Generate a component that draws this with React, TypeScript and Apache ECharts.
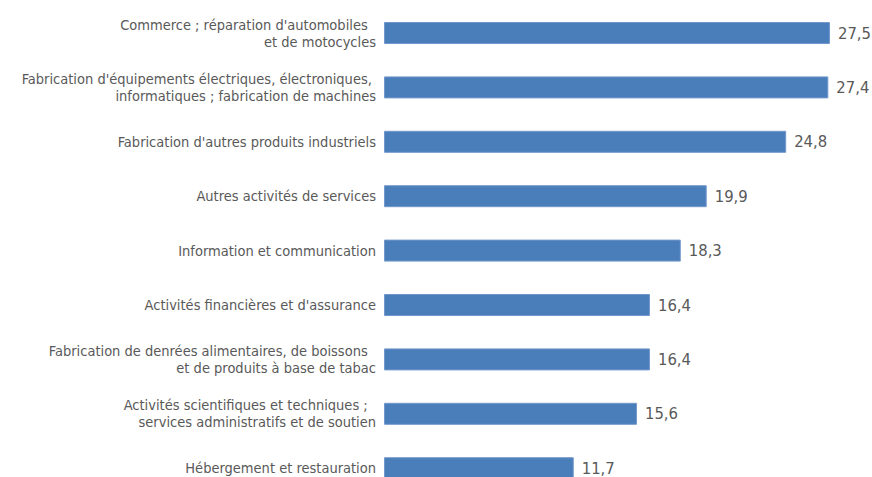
import React, { useEffect, useRef } from "react";
import * as echarts from "echarts";

const categories: string[] = [
  "Commerce ; réparation d'automobiles\u00a0\u00a0\net de motocycles",
  "Fabrication d'équipements électriques, électroniques,\u00a0\ninformatiques ; fabrication de machines",
  "Fabrication d'autres produits industriels",
  "Autres activités de services",
  "Information et communication",
  "Activités financières et d'assurance",
  "Fabrication de denrées alimentaires, de boissons\u00a0\u00a0\net de produits à base de tabac",
  "Activités scientifiques et techniques ;\u00a0\u00a0\nservices administratifs et de soutien",
  "Hébergement et restauration",
];

const values: number[] = [27.5, 27.4, 24.8, 19.9, 18.3, 16.4, 16.4, 15.6, 11.7];

const FONT = "'DejaVu Sans Condensed', 'Liberation Sans Narrow', 'Liberation Sans', sans-serif";

export default function App() {
  const ref = useRef<HTMLDivElement>(null);
  useEffect(() => {
    if (!ref.current) return;
    const chart = echarts.init(ref.current, undefined, { renderer: "svg" });
    chart.setOption({
      animation: false,
      backgroundColor: "#ffffff",
      grid: {
        left: 384,
        top: 5.8,
        height: 489.6,
        width: 486.5,
        containLabel: false,
        outerBoundsMode: "none",
      },
      xAxis: {
        type: "value",
        min: 0,
        max: 30,
        show: false,
      },
      yAxis: {
        type: "category",
        inverse: true,
        data: categories,
        axisLine: { show: false },
        axisTick: { show: false },
        splitLine: { show: false },
        axisLabel: {
          margin: 8,
          color: "#595959",
          fontSize: 14.5,
          lineHeight: 17,
          fontFamily: FONT,
          align: "right",
        },
      },
      series: [
        {
          type: "bar",
          data: values,
          barWidth: 22,
          itemStyle: { color: "#4A7EBB", borderColor: "#7398cb", borderWidth: 1 },
          label: {
            show: true,
            position: "right",
            distance: 8,
            color: "#595959",
            fontSize: 16.5,
            fontFamily: FONT,
            formatter: (p: any) => String(p.value.toFixed(1)).replace(".", ","),
          },
        },
      ],
    });
    return () => chart.dispose();
  }, []);
  return (
    <div
      ref={ref}
      style={{ position: "absolute", left: 0, top: 0, width: 872, height: 477, background: "#fff" }}
    />
  );
}
